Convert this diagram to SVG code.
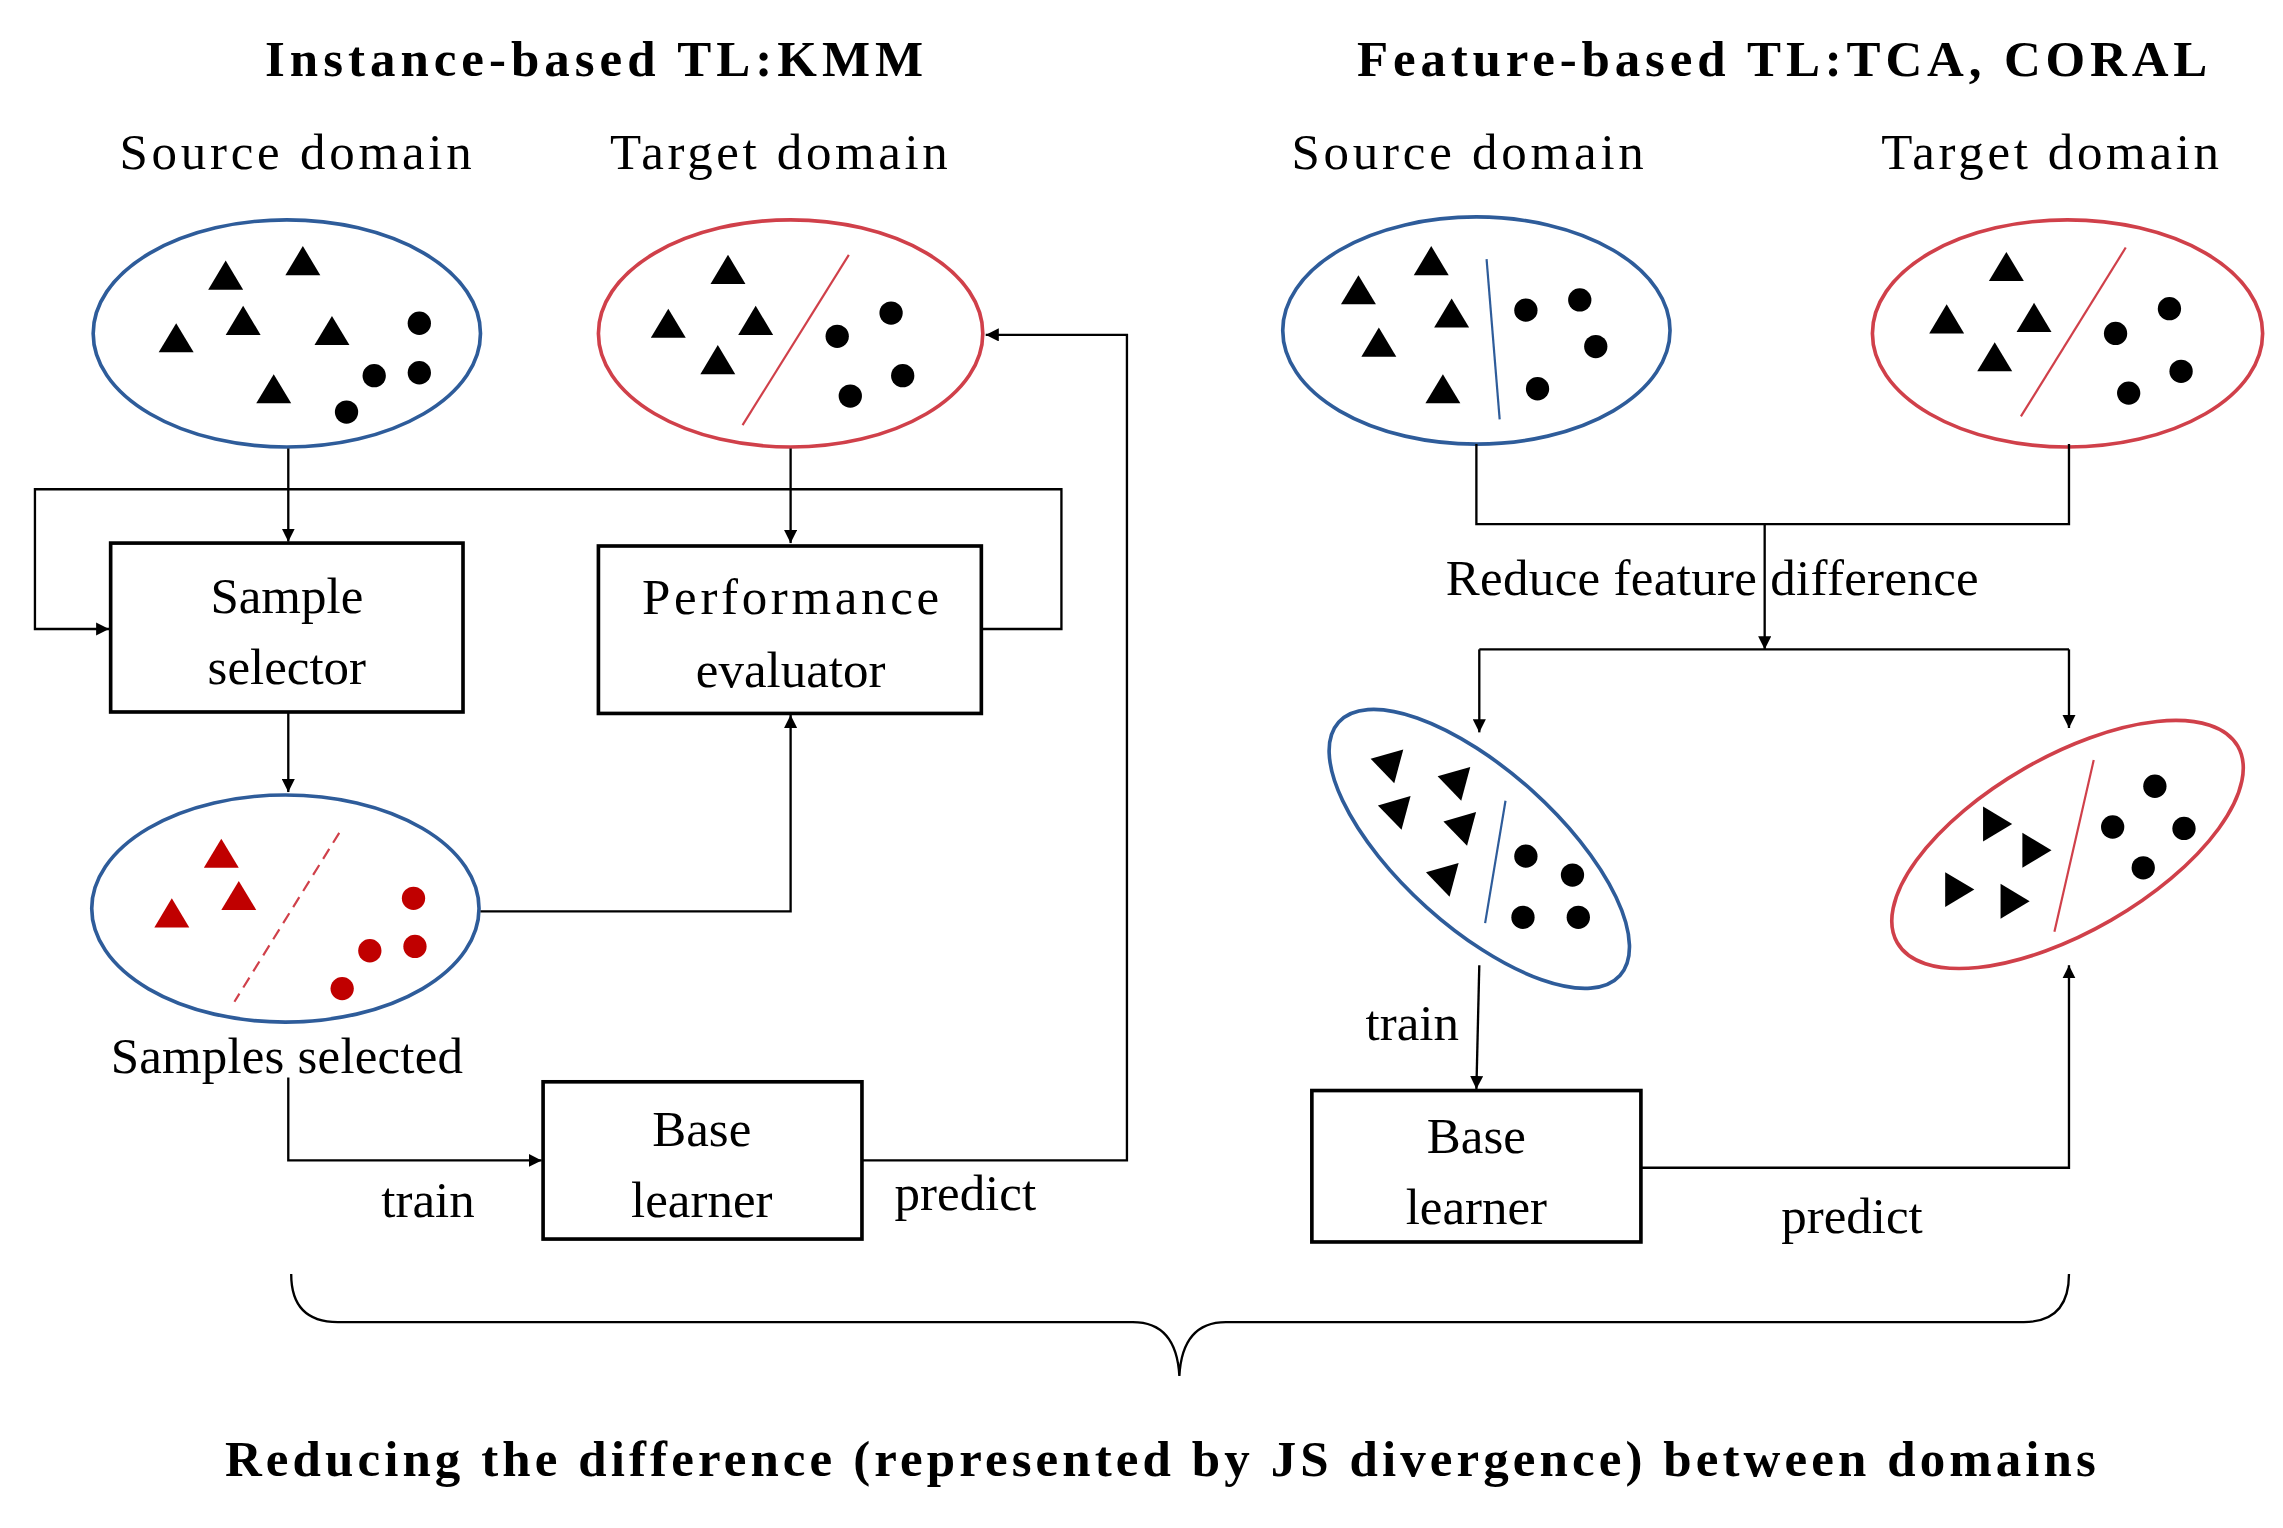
<svg xmlns="http://www.w3.org/2000/svg" width="2283" height="1528" viewBox="0 0 2283 1528">
<style>
text{font-family:"Liberation Serif","Times New Roman",serif;font-size:35px;fill:#000;text-anchor:middle}
.b{font-weight:bold}
.box{fill:#fff;stroke:#000;stroke-width:2.5}
.eb{fill:none;stroke:#2e5c9a;stroke-width:2.5}
.er{fill:none;stroke:#d0404a;stroke-width:2.5}
.ln{fill:none;stroke:#000;stroke-width:1.6}
</style>
<defs>
<marker id="a" viewBox="0 0 10 10" refX="10" refY="5" markerWidth="9" markerHeight="9" orient="auto" markerUnits="userSpaceOnUse"><path d="M0,0L10,5L0,10z"/></marker>
<polygon id="t" points="0,-11 12,9 -12,9"/>
<circle id="d" r="8"/>
</defs>
<rect width="2283" height="1528" fill="#fff"/>
<g transform="scale(1.456)">
<text class="b" x="408" y="52" textLength="452" lengthAdjust="spacing">Instance-based TL:KMM</text>
<text class="b" x="1224" y="52" textLength="584" lengthAdjust="spacing">Feature-based TL:TCA, CORAL</text>
<text x="203" y="116" textLength="242" lengthAdjust="spacing">Source domain</text>
<text x="535" y="116" textLength="232" lengthAdjust="spacing">Target domain</text>
<text x="1008" y="116" textLength="242" lengthAdjust="spacing">Source domain</text>
<text x="1408" y="116" textLength="232" lengthAdjust="spacing">Target domain</text>

<g id="src1"><ellipse class="eb" cx="197" cy="229" rx="133" ry="78"/>
<use href="#t" x="155" y="190"/><use href="#t" x="208" y="180"/><use href="#t" x="167" y="221"/><use href="#t" x="121" y="233"/><use href="#t" x="228" y="228"/><use href="#t" x="188" y="268"/>
<use href="#d" x="288" y="222"/><use href="#d" x="257" y="258"/><use href="#d" x="288" y="256"/><use href="#d" x="238" y="283"/></g>

<g id="tgt1"><ellipse class="er" cx="543" cy="229" rx="132" ry="78"/>
<line x1="583" y1="175" x2="510" y2="292" stroke="#d0404a" stroke-width="1.5"/>
<use href="#t" x="500" y="186"/><use href="#t" x="459" y="223"/><use href="#t" x="519" y="221"/><use href="#t" x="493" y="248"/>
<use href="#d" x="612" y="215"/><use href="#d" x="575" y="231"/><use href="#d" x="620" y="258"/><use href="#d" x="584" y="272"/></g>

<g id="selector"><rect class="box" x="76" y="373" width="242" height="116"/><text x="197" y="421">Sample</text><text x="197" y="470">selector</text></g>
<g id="evaluator"><rect class="box" x="411" y="375" width="263" height="115"/><text x="543" y="422" textLength="204" lengthAdjust="spacing">Performance</text><text x="543" y="472">evaluator</text></g>

<g id="selected"><ellipse class="eb" cx="196" cy="624" rx="133" ry="78"/>
<line x1="233" y1="572" x2="161" y2="688" stroke="#d0404a" stroke-width="1.5" stroke-dasharray="8,5"/>
<g fill="#c00000"><use href="#t" x="152" y="587"/><use href="#t" x="118" y="628"/><use href="#t" x="164" y="616"/>
<use href="#d" x="284" y="617"/><use href="#d" x="285" y="650"/><use href="#d" x="254" y="653"/><use href="#d" x="235" y="679"/></g></g>
<text x="197" y="737" textLength="242" lengthAdjust="spacing">Samples selected</text>

<g id="base1"><rect class="box" x="373" y="743" width="219" height="108"/><text x="482" y="787">Base</text><text x="482" y="836">learner</text></g>
<text x="294" y="836">train</text>
<text x="663" y="831">predict</text>

<g id="src2"><ellipse class="eb" cx="1014" cy="227" rx="133" ry="78"/>
<line x1="1021" y1="178" x2="1030" y2="288" stroke="#2e5c9a" stroke-width="1.5"/>
<use href="#t" x="933" y="200"/><use href="#t" x="983" y="180"/><use href="#t" x="997" y="216"/><use href="#t" x="947" y="236"/><use href="#t" x="991" y="268"/>
<use href="#d" x="1048" y="213"/><use href="#d" x="1085" y="206"/><use href="#d" x="1096" y="238"/><use href="#d" x="1056" y="267"/></g>

<g id="tgt2"><ellipse class="er" cx="1420" cy="229" rx="134" ry="78"/>
<line x1="1460" y1="170" x2="1388" y2="286" stroke="#d0404a" stroke-width="1.5"/>
<use href="#t" x="1378" y="184"/><use href="#t" x="1337" y="220"/><use href="#t" x="1397" y="219"/><use href="#t" x="1370" y="246"/>
<use href="#d" x="1490" y="212"/><use href="#d" x="1453" y="229"/><use href="#d" x="1498" y="255"/><use href="#d" x="1462" y="270"/></g>

<text x="1176" y="409" textLength="366" lengthAdjust="spacing">Reduce feature difference</text>

<g id="src3"><ellipse class="eb" cx="1016" cy="583" rx="130" ry="54" transform="rotate(42 1016 583)"/>
<line x1="1034" y1="550" x2="1020" y2="634" stroke="#2e5c9a" stroke-width="1.5"/>
<use href="#t" transform="translate(952 524) rotate(-75)"/><use href="#t" transform="translate(998 536) rotate(-75)"/><use href="#t" transform="translate(957 556) rotate(-75)"/><use href="#t" transform="translate(1002 567) rotate(-75)"/><use href="#t" transform="translate(990 602) rotate(-75)"/>
<use href="#d" x="1048" y="588"/><use href="#d" x="1080" y="601"/><use href="#d" x="1046" y="630"/><use href="#d" x="1084" y="630"/></g>

<g id="tgt3"><ellipse class="er" cx="1420" cy="580" rx="135" ry="60" transform="rotate(-30 1420 580)"/>
<line x1="1438" y1="522" x2="1411" y2="640" stroke="#d0404a" stroke-width="1.5"/>
<use href="#t" transform="translate(1371 566) rotate(90)"/><use href="#t" transform="translate(1398 584) rotate(90)"/><use href="#t" transform="translate(1345 611) rotate(90)"/><use href="#t" transform="translate(1383 619) rotate(90)"/>
<use href="#d" x="1480" y="540"/><use href="#d" x="1451" y="568"/><use href="#d" x="1500" y="569"/><use href="#d" x="1472" y="596"/></g>

<g id="base2"><rect class="box" x="901" y="749" width="226" height="104"/><text x="1014" y="792">Base</text><text x="1014" y="841">learner</text></g>
<text x="970" y="714">train</text>
<text x="1272" y="847">predict</text>

<g id="connectors">
<path class="ln" d="M198,308V372" marker-end="url(#a)"/>
<path class="ln" d="M674,432H729V336H24V432H75" marker-end="url(#a)"/>
<path class="ln" d="M543,308V373" marker-end="url(#a)"/>
<path class="ln" d="M198,489V544" marker-end="url(#a)"/>
<path class="ln" d="M330,626H543V491" marker-end="url(#a)"/>
<path class="ln" d="M198,740V797H372" marker-end="url(#a)"/>
<path class="ln" d="M592,797H774V230H677" marker-end="url(#a)"/>
<path class="ln" d="M1014,305V360H1421V305"/>
<path class="ln" d="M1212,360V446" marker-end="url(#a)"/>
<path class="ln" d="M1016,446H1421"/>
<path class="ln" d="M1016,446V503" marker-end="url(#a)"/>
<path class="ln" d="M1421,446V500" marker-end="url(#a)"/>
<path class="ln" d="M1016,663L1014,748" marker-end="url(#a)"/>
<path class="ln" d="M1127,802H1421V663" marker-end="url(#a)"/>
<path class="ln" d="M200,875Q200,908 232,908H778Q808,908 810,945Q812,908 842,908H1390Q1421,908 1421,875"/>
</g>
<text class="b" x="797" y="1014" textLength="1285" lengthAdjust="spacing">Reducing the difference (represented by JS divergence) between domains</text>
</g>
</svg>
